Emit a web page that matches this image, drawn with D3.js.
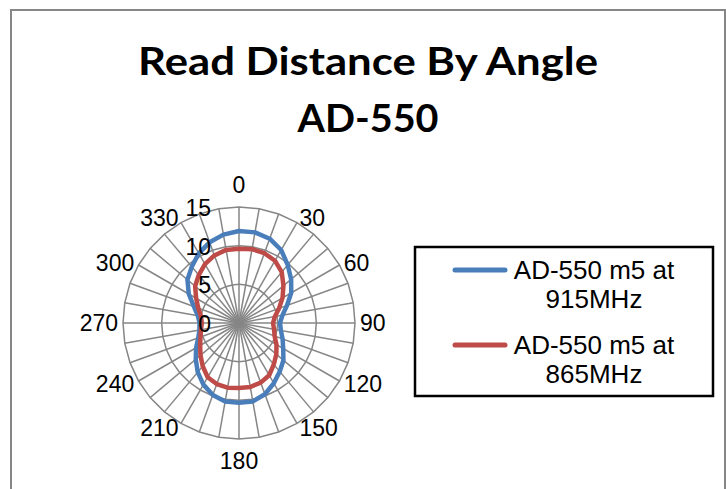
<!DOCTYPE html>
<html>
<head>
<meta charset="utf-8">
<script src="https://cdn.jsdelivr.net/npm/d3@7"></script>
<style>
  html, body { margin: 0; padding: 0; background: #fff; }
  svg { display: block; }
</style>
</head>
<body>
<svg id="chart" width="726" height="489"></svg>
<script>
// categories (degrees) - every 10 deg, only multiples of 30 get a label
const angles = [0, 10, 20, 30, 40, 50, 60, 70, 80, 90, 100, 110, 120, 130, 140, 150, 160, 170,
                180, 190, 200, 210, 220, 230, 240, 250, 260, 270, 280, 290, 300, 310, 320, 330, 340, 350];
const angleLabels = [0, 30, 60, 90, 120, 150, 180, 210, 240, 270, 300, 330];
const valueTicks = [0, 5, 10, 15];

const seriesNames = ['AD-550 m5 at 915MHz', 'AD-550 m5 at 865MHz'];
const read915 = [11.9, 11.9, 11.6, 10.9, 9.8, 8.8, 7.8, 6.6, 5.7, 5.3, 5.5, 6.0, 6.6, 7.5, 8.2, 9.0, 9.8, 10.3,
                 10.3, 10.3, 9.9, 9.2, 8.3, 7.3, 6.4, 5.6, 5.2, 5.1, 5.4, 6.2, 7.5, 8.7, 9.5, 10.4, 11.1, 11.6];
const read865 = [9.6, 9.7, 9.6, 9.3, 8.6, 7.5, 6.5, 5.5, 4.7, 4.4, 4.6, 4.9, 5.6, 6.3, 7.0, 7.8, 8.2, 8.4,
                 8.4, 8.5, 8.4, 8.1, 7.3, 6.5, 5.8, 5.3, 5.0, 4.8, 5.0, 5.6, 6.4, 7.4, 8.1, 8.8, 9.3, 9.6];

const colors = ['#4a7ebb', '#be4b48'];
const gridColor = '#868686';

const svg = d3.select('#chart');
const cx = 239, cy = 323, outerR = 116;

// chart area border
svg.append('rect')
   .attr('x', 11).attr('y', 10)
   .attr('width', 714).attr('height', 500)
   .attr('fill', '#fff')
   .attr('stroke', gridColor)
   .attr('stroke-width', 2);

// title
const title = svg.append('g').attr('font-family', 'Lato, "Open Sans", sans-serif')
                 .attr('font-weight', 'bold').attr('text-anchor', 'middle');
title.append('text').attr('x', 368).attr('y', 75).attr('font-size', 39)
     .attr('textLength', 460).attr('lengthAdjust', 'spacingAndGlyphs')
     .text('Read Distance By Angle');
title.append('text').attr('x', 368).attr('y', 132).attr('font-size', 39)
     .attr('textLength', 141).attr('lengthAdjust', 'spacingAndGlyphs')
     .text('AD-550');

const rScale = d3.scaleLinear().domain([0, 15]).range([0, outerR]);
const aScale = d3.scaleLinear().domain([0, 360]).range([0, 2 * Math.PI]);

const g = svg.append('g').attr('transform', `translate(${cx},${cy})`);

// spokes
g.selectAll('.spoke')
 .data(angles)
 .enter()
 .append('line')
 .attr('x1', 0).attr('y1', 0)
 .attr('x2', d => rScale(15) * Math.sin(aScale(d)))
 .attr('y2', d => -rScale(15) * Math.cos(aScale(d)))
 .attr('stroke', gridColor)
 .attr('stroke-width', 1.5);

// rings (polygons)
const ring = d3.lineRadial()
               .angle(d => aScale(d.a))
               .radius(d => rScale(d.v))
               .curve(d3.curveLinearClosed);
g.selectAll('.ring')
 .data(valueTicks.filter(v => v > 0))
 .enter()
 .append('path')
 .attr('fill', 'none')
 .attr('stroke', gridColor)
 .attr('stroke-width', 1.5)
 .attr('d', v => ring(angles.map(a => ({a: a, v: v}))));

// series
[read915, read865].forEach((vals, i) => {
  g.append('path')
   .attr('fill', 'none')
   .attr('stroke', colors[i])
   .attr('stroke-width', 4.5)
   .attr('stroke-linejoin', 'round')
   .attr('d', ring(angles.map((a, j) => ({a: a, v: vals[j]}))));
});

// value axis labels
g.selectAll('.vlabel')
 .data(valueTicks)
 .enter()
 .append('text')
 .attr('x', -28)
 .attr('y', d => -rScale(d) + 9)
 .attr('text-anchor', 'end')
 .attr('font-family', '"Liberation Sans", Arial, sans-serif')
 .attr('font-size', 23)
 .text(d => d);

// category labels
const labelR = 121;
g.selectAll('.alabel')
 .data(angleLabels)
 .enter()
 .append('text')
 .attr('font-family', '"Liberation Sans", Arial, sans-serif')
 .attr('font-size', 23)
 .attr('text-anchor', 'middle')
 .text(d => d)
 .each(function(d) {
   const w = this.getComputedTextLength();
   const s = Math.sin(aScale(d)), c = Math.cos(aScale(d));
   let x = s * labelR, y = -c * labelR;
   if (Math.abs(s) > 0.01) x += Math.sign(s) * w / 2;
   else y -= Math.sign(c) * 17;
   d3.select(this).attr('x', x).attr('y', y + 8);
 });

// legend
const legend = svg.append('g');
legend.append('rect')
      .attr('x', 415).attr('y', 247)
      .attr('width', 298).attr('height', 149)
      .attr('fill', '#fff')
      .attr('stroke', '#000')
      .attr('stroke-width', 2.5);
const legendLines = [['AD-550 m5 at', '915MHz'], ['AD-550 m5 at', '865MHz']];
seriesNames.forEach((name, i) => {
  const y0 = 270 + i * 75;
  legend.append('line')
        .attr('x1', 455).attr('x2', 505)
        .attr('y1', y0).attr('y2', y0)
        .attr('stroke', colors[i])
        .attr('stroke-width', 5)
        .attr('stroke-linecap', 'round');
  const txt = legend.append('text')
                    .attr('font-family', '"Liberation Sans", Arial, sans-serif')
                    .attr('font-size', 26)
                    .attr('text-anchor', 'middle');
  legendLines[i].forEach((ln, k) => {
    txt.append('tspan').attr('x', 594).attr('y', y0 + 9 + k * 29).text(ln);
  });
});
</script>
</body>
</html>
